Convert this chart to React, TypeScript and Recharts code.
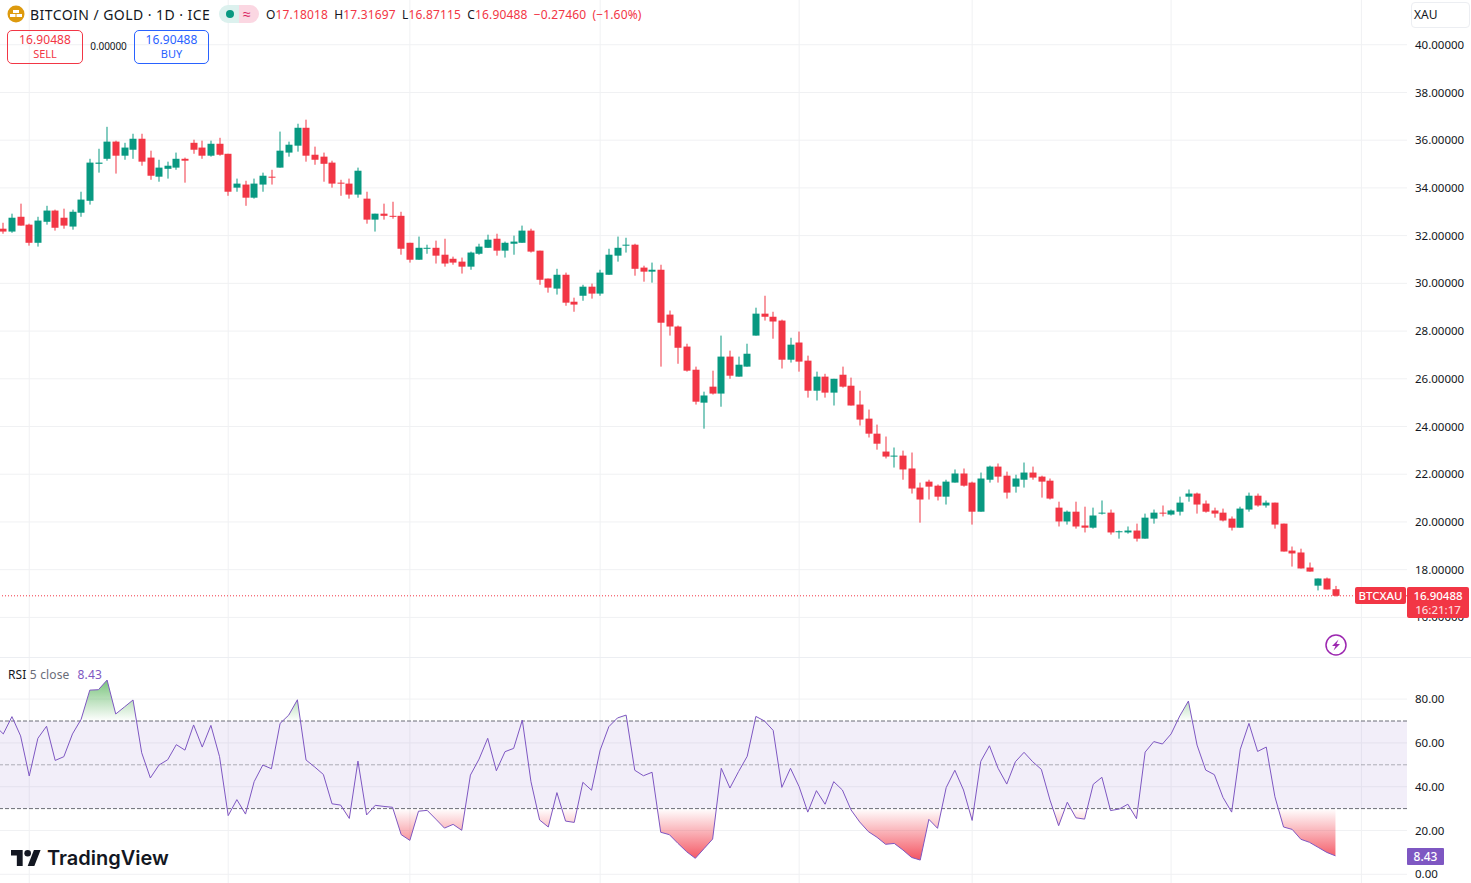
import {
  Area,
  Bar,
  CartesianGrid,
  ComposedChart,
  Line,
  ReferenceArea,
  ReferenceLine,
  XAxis,
  YAxis,
} from 'recharts';

const opens = [
  32.29, 32.17, 32.79, 32.46, 31.7, 32.58, 33.05, 32.75, 32.38, 32.96, 33.46, 35.01, 35.22, 35.94, 35.35, 35.6,
  36.06, 35.27, 34.47, 34.8, 34.85, 35.22, 35.89, 35.69, 35.35, 35.85, 35.43, 34.01, 34.14, 33.59, 34.14, 34.47,
  34.85, 35.48, 35.77, 36.52, 35.39, 35.31, 35.06, 34.22, 34.18, 33.72, 33.55, 32.67, 32.92, 32.83, 32.83, 31.7,
  30.99, 31.45, 31.49, 31.2, 31.03, 30.91, 30.7, 31.24, 31.49, 31.87, 31.37, 31.66, 31.7, 32.21, 31.37, 30.2,
  29.78, 30.36, 29.23, 29.48, 29.86, 29.57, 30.36, 31.16, 31.58, 31.62, 30.66, 30.49, 30.57, 28.69, 28.19, 27.35,
  26.38, 25.0, 25.67, 25.38, 26.93, 26.09, 26.51, 27.81, 28.73, 28.6, 28.44, 26.8, 27.52, 26.76, 25.5, 26.09,
  25.42, 26.17, 25.71, 24.92, 24.33, 23.7, 22.95, 22.74, 22.78, 22.24, 21.44, 21.69, 21.52, 21.06, 21.65, 22.03,
  21.65, 20.43, 21.77, 22.32, 21.94, 21.48, 21.77, 22.07, 21.9, 21.73, 20.6, 20.02, 20.43, 19.85, 19.76, 20.35,
  20.39, 19.57, 19.56, 19.64, 19.3, 20.14, 20.39, 20.31, 20.43, 21.06, 21.19, 20.77, 20.48, 20.39, 20.14, 19.76,
  20.52, 21.1, 20.69, 20.81, 19.93, 18.8, 18.72, 18.09, 17.33, 17.63, 17.18,
];
const highs = [
  32.54, 32.92, 33.34, 32.5, 32.79, 33.25, 33.09, 33.13, 33.09, 33.84, 35.22, 35.64, 36.56, 35.98, 35.89, 36.27,
  36.27, 35.56, 35.18, 35.1, 35.48, 35.27, 36.02, 35.98, 35.98, 36.1, 35.43, 34.39, 34.3, 34.39, 34.64, 34.76,
  36.36, 35.94, 36.69, 36.86, 35.73, 35.48, 35.14, 34.34, 34.39, 34.85, 33.84, 32.92, 33.34, 33.42, 33.0, 31.7,
  31.96, 31.62, 31.79, 31.87, 31.12, 31.08, 31.33, 31.66, 32.04, 32.08, 31.75, 32.0, 32.42, 32.29, 31.37, 30.2,
  30.61, 30.45, 29.4, 29.94, 29.99, 30.57, 31.45, 31.96, 31.91, 31.66, 30.74, 30.87, 30.78, 28.86, 28.23, 27.47,
  26.51, 25.46, 26.34, 27.81, 27.18, 26.93, 27.47, 28.98, 29.48, 28.81, 28.48, 27.72, 27.98, 26.97, 26.3, 26.21,
  26.0, 26.51, 26.05, 25.5, 24.71, 24.08, 23.58, 23.12, 22.99, 22.91, 21.65, 21.77, 21.57, 21.77, 22.2, 22.24,
  21.69, 22.07, 22.36, 22.45, 22.11, 21.98, 22.49, 22.32, 21.94, 21.82, 20.85, 20.48, 20.85, 20.64, 20.6, 20.9,
  20.52, 19.64, 19.81, 19.93, 20.35, 20.52, 20.69, 20.52, 21.06, 21.36, 21.23, 20.9, 20.6, 20.56, 20.23, 20.64,
  21.23, 21.19, 20.9, 20.81, 19.93, 18.97, 18.88, 18.3, 17.63, 17.67, 17.32,
];
const lows = [
  32.08, 32.12, 32.42, 31.58, 31.54, 32.46, 32.21, 32.29, 32.25, 32.79, 33.3, 34.64, 35.14, 34.6, 35.18, 35.22,
  34.93, 34.34, 34.26, 34.39, 34.76, 34.22, 35.43, 35.22, 35.31, 35.35, 33.67, 33.84, 33.25, 33.55, 33.84, 34.14,
  34.85, 35.31, 35.52, 35.1, 34.97, 34.26, 34.01, 33.67, 33.55, 33.59, 32.5, 32.17, 32.67, 32.71, 31.2, 30.87,
  30.99, 31.24, 30.83, 30.7, 30.78, 30.41, 30.57, 31.2, 31.49, 31.16, 31.08, 31.2, 31.7, 31.29, 29.94, 29.61,
  29.53, 29.06, 28.81, 29.27, 29.36, 29.48, 30.36, 30.91, 31.29, 30.32, 30.07, 30.03, 26.51, 27.81, 26.63, 26.3,
  24.92, 23.91, 25.34, 24.83, 26.0, 26.09, 26.51, 27.81, 28.44, 27.68, 26.43, 26.68, 26.3, 25.21, 25.09, 25.21,
  24.88, 25.63, 24.88, 24.04, 23.54, 23.03, 22.66, 22.28, 21.77, 21.19, 19.97, 20.94, 20.9, 20.73, 21.65, 21.48,
  19.89, 20.43, 21.65, 21.65, 20.98, 21.23, 21.44, 21.77, 21.02, 20.94, 19.81, 19.89, 19.72, 19.56, 19.72, 20.31,
  19.47, 19.3, 19.51, 19.18, 19.3, 19.93, 20.23, 20.27, 20.27, 20.85, 20.35, 20.39, 20.18, 20.02, 19.64, 19.76,
  20.43, 20.64, 20.6, 19.72, 18.76, 18.13, 18.05, 17.92, 17.13, 17.17, 16.87,
];
const closes = [
  32.17, 32.75, 32.42, 31.7, 32.63, 33.05, 32.33, 32.42, 33.0, 33.51, 35.06, 35.06, 35.94, 35.35, 35.69, 36.06,
  35.1, 34.51, 34.85, 34.93, 35.22, 35.14, 35.6, 35.35, 35.85, 35.39, 33.84, 34.18, 33.59, 34.18, 34.51, 34.43,
  35.56, 35.81, 36.52, 35.35, 35.18, 35.01, 34.18, 34.18, 33.72, 34.72, 32.67, 32.92, 32.83, 32.79, 31.45, 30.99,
  31.49, 31.49, 31.16, 30.83, 30.87, 30.7, 31.29, 31.54, 31.83, 31.37, 31.7, 31.75, 32.21, 31.33, 30.15, 29.82,
  30.36, 29.19, 29.11, 29.86, 29.57, 30.45, 31.2, 31.49, 31.62, 30.61, 30.49, 30.57, 28.35, 28.19, 27.3, 26.34,
  25.04, 25.3, 25.38, 26.93, 26.13, 26.59, 27.05, 28.73, 28.6, 28.4, 26.8, 27.43, 26.72, 25.5, 26.09, 25.42,
  26.0, 25.67, 24.88, 24.29, 23.7, 23.28, 22.74, 22.78, 22.2, 21.4, 20.94, 21.48, 21.06, 21.69, 22.03, 21.52,
  20.43, 21.82, 22.32, 21.9, 21.23, 21.82, 22.07, 21.86, 21.69, 20.98, 20.02, 20.43, 19.81, 19.76, 20.27, 20.39,
  19.56, 19.61, 19.64, 19.3, 20.18, 20.39, 20.35, 20.48, 20.81, 21.19, 20.73, 20.43, 20.35, 20.06, 19.76, 20.56,
  21.1, 20.69, 20.81, 19.89, 18.76, 18.68, 18.05, 17.92, 17.63, 17.17, 16.90488,
];
// first entry belongs to the bar just off the left edge
const rsiValues = [
  68, 64.1, 72, 63.2, 44.9, 62.1, 67.6, 52, 53.7, 64.1, 70.8, 84.1, 84.3, 88.7, 73.2, 76.4, 79.6,
  55.5, 44, 49.9, 52.3, 59.2, 56.7, 68.2, 58.1, 68, 53.7, 26.8, 34.1, 27.5, 42.3, 49.9, 48.2,
  68.9, 72.7, 79.7, 52.2, 49, 45.6, 32.2, 31.6, 25.5, 51.7, 27.1, 31.5, 31, 30.6, 18.1, 15.5,
  28.8, 29.2, 25.2, 21.1, 22.8, 20.1, 45.3, 52.6, 62.1, 47.3, 56, 57.5, 70.4, 42.3, 24.8, 21.6,
  37.3, 24.3, 23.7, 42, 38.4, 56.7, 67.4, 71.4, 72.7, 47.5, 45, 46.6, 19.2, 18.1, 14.1, 10.3,
  7.3, 11.7, 16.1, 48.4, 39.4, 46.9, 53.9, 72.1, 70, 65.7, 39.7, 48.4, 40, 28.4, 38.2, 32,
  42.3, 38.5, 29.4, 23.9, 19.5, 16.9, 13.7, 14.1, 11.1, 7.7, 6.5, 25.1, 21, 39.6, 47.5, 38.5,
  24.6, 51.6, 58.7, 48.4, 41.2, 51.4, 55.7, 51.4, 47.9, 33.9, 22.2, 32.9, 25.8, 25.2, 41.1, 44.3,
  29.1, 29.8, 32, 25.4, 55.8, 60.6, 59.5, 64.1, 72.3, 79.1, 59, 47.6, 45.5, 35.1, 28.4, 57.1,
  68.9, 56.1, 58.1, 35.4, 21.6, 20.5, 16, 14.6, 12.3, 10, 8.43,
];

const priceTicks = [16, 18, 20, 22, 24, 26, 28, 30, 32, 34, 36, 38, 40];
const rsiTicks = [0, 20, 40, 60, 80];
const timeTicks = [3, 26, 47, 69, 92, 112, 135, 157];
const lastPrice = 16.90488;

const priceRows = opens.map((open, i) => ({ i, open, high: highs[i], low: lows[i], close: closes[i] }));
const rsiRows = rsiValues.map((rsi, i) => ({ i: i - 1, rsi }));

const GREEN = '#089981';
const RED = '#f23645';
const PURPLE = '#7e57c2';
const GRID = '#f0f1f3';
const TEXT = '#131722';
const DASH = '#6b6d76';
const FONT = '"Noto Sans", sans-serif';
const xDomain = [-0.38, 162.27];

const rsiMax = Math.max(...rsiValues);
const rsiMin = Math.min(...rsiValues);
const overStop = (rsiMax - 70) / (rsiMax - rsiMin);
const underStop = (rsiMax - 30) / (rsiMax - rsiMin);

function Candle(props: any) {
  const { x, y, width, height, payload } = props;
  const { open, close, high, low } = payload;
  const color = close >= open ? GREEN : RED;
  const toY = (v: number) => y + ((high - v) / (high - low)) * height;
  const top = toY(Math.max(open, close));
  const bottom = toY(Math.min(open, close));
  const mid = Math.round(x + width / 2);
  return (
    <g>
      <rect x={mid - 0.5} y={y} width={1} height={height} fill={color} />
      <rect x={mid - 3.5} y={top} width={7} height={Math.max(bottom - top, 1)} fill={color} />
    </g>
  );
}

function Abs({ style, children }: any) {
  return <div style={{ position: 'absolute', whiteSpace: 'nowrap', fontFamily: FONT, ...style }}>{children}</div>;
}

function Header() {
  return (
    <>
      <svg width={18} height={18} style={{ position: 'absolute', left: 7, top: 5 }}>
        <circle cx={9} cy={9} r={8.5} fill="#dd9a0e" />
        <rect x={6} y={5} width={6} height={3} fill="#fff" />
        <rect x={3} y={9} width={5.5} height={3} fill="#fff" />
        <rect x={9.5} y={9} width={5.5} height={3} fill="#fff" />
      </svg>
      <Abs style={{ left: 30, top: 5, fontSize: 14, lineHeight: '19px', letterSpacing: 0.45, color: TEXT }}>BITCOIN / GOLD · 1D · ICE</Abs>
      <div style={{ position: 'absolute', left: 219, top: 5, width: 20, height: 18, background: '#dcf1ee', borderRadius: '9px 0 0 9px' }} />
      <div style={{ position: 'absolute', left: 239, top: 5, width: 20, height: 18, background: '#fbd7e2', borderRadius: '0 9px 9px 0' }} />
      <div style={{ position: 'absolute', left: 226, top: 10, width: 8, height: 8, background: GREEN, borderRadius: 4 }} />
      <Abs style={{ left: 243, top: 4, fontSize: 14, lineHeight: '19px', color: '#d81b60' }}>≈</Abs>
      <Abs style={{ left: 266, top: 6, fontSize: 12, lineHeight: '17px', letterSpacing: 0.15, wordSpacing: 3, color: TEXT }}>
        O<span style={{ color: RED }}>17.18018</span> H<span style={{ color: RED }}>17.31697</span> L
        <span style={{ color: RED }}>16.87115</span> C<span style={{ color: RED }}>16.90488</span>{' '}
        <span style={{ color: RED }}>−0.27460 (−1.60%)</span>
      </Abs>
      <div style={{ position: 'absolute', left: 7, top: 30, width: 74, height: 32, border: `1px solid ${RED}`, borderRadius: 5 }} />
      <Abs style={{ left: 7, width: 76, textAlign: 'center', top: 32, fontSize: 12, lineHeight: '16px', letterSpacing: 0.1, color: RED }}>16.90488</Abs>
      <Abs style={{ left: 7, width: 76, textAlign: 'center', top: 47, fontSize: 11, lineHeight: '14px', color: RED }}>SELL</Abs>
      <Abs style={{ left: 83, width: 51, textAlign: 'center', top: 39, fontSize: 10, lineHeight: '14px', letterSpacing: -0.1, color: TEXT }}>0.00000</Abs>
      <div style={{ position: 'absolute', left: 134, top: 30, width: 73, height: 32, border: '1px solid #2962ff', borderRadius: 5 }} />
      <Abs style={{ left: 134, width: 75, textAlign: 'center', top: 32, fontSize: 12, lineHeight: '16px', letterSpacing: 0.1, color: '#2962ff' }}>16.90488</Abs>
      <Abs style={{ left: 134, width: 75, textAlign: 'center', top: 47, fontSize: 11, lineHeight: '14px', color: '#2962ff' }}>BUY</Abs>
      <div style={{ position: 'absolute', left: 1411, top: 2, width: 57, height: 24, background: '#fff', border: '1px solid #eceef2', borderRadius: 4 }} />
      <Abs style={{ left: 1414, top: 6, fontSize: 12, lineHeight: '17px', color: TEXT }}>XAU</Abs>
    </>
  );
}

function PriceBadges() {
  return (
    <>
      <Abs style={{ left: 1355, top: 587, width: 51, height: 17, background: RED, borderRadius: 2, color: '#fff', fontSize: 11.5, lineHeight: '17px', textAlign: 'center', fontWeight: 500 }}>BTCXAU</Abs>
      <div style={{ position: 'absolute', left: 1407, top: 587, width: 62, height: 31, background: RED, borderRadius: 2 }} />
      <Abs style={{ left: 1407, width: 62, top: 588, textAlign: 'center', color: '#fff', fontSize: 11.5, lineHeight: '15px', fontWeight: 500 }}>16.90488</Abs>
      <Abs style={{ left: 1407, width: 62, top: 602, textAlign: 'center', color: '#fcd5d9', fontSize: 11.5, lineHeight: '15px', fontWeight: 500 }}>16:21:17</Abs>
      <svg width={24} height={24} style={{ position: 'absolute', left: 1323.5, top: 632.5 }}>
        <circle cx={12} cy={12} r={10} fill="#fff" stroke="#9c27b0" strokeWidth={1.5} />
        <path d="M14.5 6.5 L8 13 H11.5 L9.5 17.5 L16 11 H12.5 Z" fill="#9c27b0" />
      </svg>
      <Abs style={{ left: 1407, top: 848, width: 37, height: 17, background: PURPLE, color: '#fff', fontSize: 12, lineHeight: '17px', textAlign: 'center', borderRadius: 1, fontWeight: 500 }}>8.43</Abs>
      <Abs style={{ left: 8, top: 666, fontSize: 12, lineHeight: '17px', letterSpacing: 0.15, color: TEXT }}>
        RSI <span style={{ color: '#6a6d78' }}>5 close</span>
        <span style={{ color: PURPLE, marginLeft: 8 }}>8.43</span>
      </Abs>
      <svg width={30} height={16} viewBox="0 0 36 20" preserveAspectRatio="none" style={{ position: 'absolute', left: 11, top: 850 }}>
        <path d="M14 20H7V7H0V0h14v20zM28 20h-8L27.5 0h8L28 20z" fill={TEXT} />
        <circle cx={20} cy={4} r={4} fill={TEXT} />
      </svg>
      <Abs style={{ left: 47, top: 844, fontFamily: 'Inter, sans-serif', fontWeight: 600, fontSize: 20, lineHeight: '28px', color: TEXT }}>TradingView</Abs>
    </>
  );
}

export default function App() {
  return (
    <div style={{ position: 'absolute', left: 0, top: 0, width: 1471, height: 883, overflow: 'hidden', background: '#fff' }}>
      <div style={{ position: 'absolute', left: 0, top: 0 }}>
        <ComposedChart width={1471} height={657} data={priceRows} margin={{ top: 0, right: 0, bottom: 0, left: 0 }}>
          <CartesianGrid stroke={GRID} syncWithTicks />
          <XAxis dataKey="i" type="number" domain={xDomain} ticks={timeTicks} hide allowDataOverflow />
          <YAxis
            orientation="right"
            width={64}
            domain={[14.34, 41.875]}
            ticks={priceTicks}
            tickLine={false}
            axisLine={false}
            tickMargin={2}
            interval={0}
            tick={{ fontSize: 11.5, fill: TEXT, fontFamily: FONT }}
            tickFormatter={(v: number) => v.toFixed(5)}
            allowDataOverflow
          />
          <ReferenceLine y={lastPrice} stroke={RED} strokeDasharray="1 2" />
          <Bar dataKey={(d: any) => [d.low, d.high]} barSize={7} shape={Candle} isAnimationActive={false} />
        </ComposedChart>
      </div>
      <div style={{ position: 'absolute', left: 0, top: 657, width: 1471, height: 1, background: '#eceef2' }} />
      <div style={{ position: 'absolute', left: 0, top: 658 }}>
        <ComposedChart width={1471} height={225} data={rsiRows} margin={{ top: 0, right: 0, bottom: 0, left: 0 }}>
          <defs>
            <linearGradient id="rsiOver" x1="0" y1="0" x2="0" y2="1">
              <stop offset={0} stopColor="#4caf50" stopOpacity={0.75} />
              <stop offset={overStop} stopColor="#4caf50" stopOpacity={0} />
              <stop offset={1} stopColor="#4caf50" stopOpacity={0} />
            </linearGradient>
            <linearGradient id="rsiUnder" x1="0" y1="0" x2="0" y2="1">
              <stop offset={0} stopColor={RED} stopOpacity={0} />
              <stop offset={underStop} stopColor={RED} stopOpacity={0} />
              <stop offset={1} stopColor={RED} stopOpacity={0.85} />
            </linearGradient>
          </defs>
          <CartesianGrid stroke={GRID} syncWithTicks />
          <XAxis dataKey="i" type="number" domain={xDomain} ticks={timeTicks} hide allowDataOverflow />
          <YAxis
            orientation="right"
            width={64}
            domain={[-3.97, 98.77]}
            ticks={rsiTicks}
            tickLine={false}
            axisLine={false}
            tickMargin={2}
            interval={0}
            tick={{ fontSize: 11.5, fill: TEXT, fontFamily: FONT }}
            tickFormatter={(v: number) => v.toFixed(2)}
            allowDataOverflow
          />
          <ReferenceArea y1={30} y2={70} fill={PURPLE} fillOpacity={0.1} stroke="none" />
          <ReferenceLine y={70} stroke={DASH} strokeDasharray="4 2" />
          <ReferenceLine y={50} stroke={DASH} strokeOpacity={0.5} strokeDasharray="4 2" />
          <ReferenceLine y={30} stroke={DASH} strokeDasharray="4 2" />
          <Area dataKey="rsi" baseValue={70} stroke="none" fill="url(#rsiOver)" fillOpacity={1} dot={false} activeDot={false} isAnimationActive={false} />
          <Area dataKey="rsi" baseValue={30} stroke="none" fill="url(#rsiUnder)" fillOpacity={1} dot={false} activeDot={false} isAnimationActive={false} />
          <Line dataKey="rsi" stroke={PURPLE} strokeWidth={1} dot={false} activeDot={false} isAnimationActive={false} />
        </ComposedChart>
      </div>
      <Header />
      <PriceBadges />
    </div>
  );
}
